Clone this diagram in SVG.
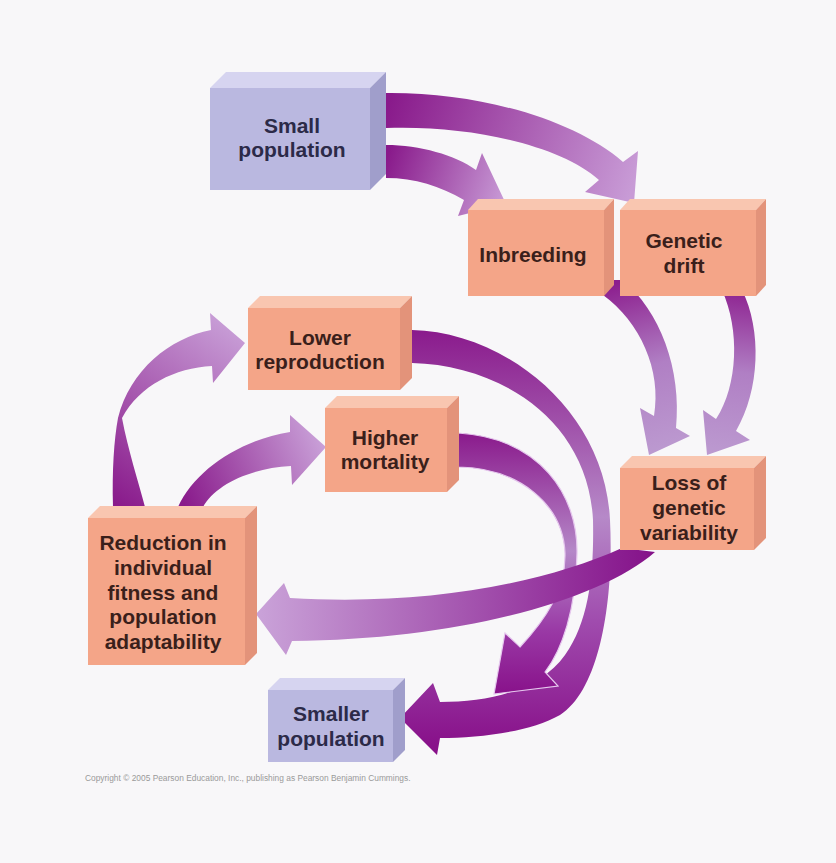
<svg xmlns="http://www.w3.org/2000/svg" width="836" height="863" viewBox="0 0 836 863">
<defs>
<style>
.t{font-family:"Liberation Sans",Arial,sans-serif;font-weight:bold;font-size:21px;text-anchor:middle}
.ts{fill:#3a1f1b}
.tl{fill:#2c2a48}
.sf{fill:#f4a588}.st{fill:#f9c6b0}.ss{fill:#e3937a}
.lf{fill:#bab8e0}.lt{fill:#d6d4f0}.ls{fill:#a09ecb}
</style>
<linearGradient id="gA" gradientUnits="userSpaceOnUse" x1="386" y1="110" x2="630" y2="195"><stop offset="0" stop-color="#891a8b"/><stop offset="1" stop-color="#c89bd6"/></linearGradient>
<linearGradient id="gB" gradientUnits="userSpaceOnUse" x1="386" y1="160" x2="505" y2="200"><stop offset="0" stop-color="#891a8b"/><stop offset="1" stop-color="#c89bd6"/></linearGradient>
<linearGradient id="gC" gradientUnits="userSpaceOnUse" x1="610" y1="285" x2="655" y2="455"><stop offset="0" stop-color="#8c1e8e"/><stop offset="0.5" stop-color="#b07fc4"/><stop offset="1" stop-color="#bc9ad0"/></linearGradient>
<linearGradient id="gI" gradientUnits="userSpaceOnUse" x1="730" y1="285" x2="710" y2="455"><stop offset="0" stop-color="#8c1e8e"/><stop offset="0.5" stop-color="#b07fc4"/><stop offset="1" stop-color="#bc9ad0"/></linearGradient>
<linearGradient id="gD" gradientUnits="userSpaceOnUse" x1="0" y1="330" x2="0" y2="745"><stop offset="0" stop-color="#8a1a8c"/><stop offset="0.45" stop-color="#b689c8"/><stop offset="0.7" stop-color="#a04cae"/><stop offset="1" stop-color="#88118a"/></linearGradient>
<linearGradient id="gE" gradientUnits="userSpaceOnUse" x1="0" y1="433" x2="0" y2="695"><stop offset="0" stop-color="#8a1a8c"/><stop offset="0.45" stop-color="#b588c8"/><stop offset="0.75" stop-color="#9a3aa6"/><stop offset="1" stop-color="#88118a"/></linearGradient>
<linearGradient id="gF" gradientUnits="userSpaceOnUse" x1="650" y1="0" x2="256" y2="0"><stop offset="0" stop-color="#85138a"/><stop offset="0.35" stop-color="#9c44a6"/><stop offset="1" stop-color="#caa3d9"/></linearGradient>
<linearGradient id="gG" gradientUnits="userSpaceOnUse" x1="120" y1="507" x2="245" y2="330"><stop offset="0" stop-color="#891a8b"/><stop offset="1" stop-color="#c9a0d8"/></linearGradient>
<linearGradient id="gH" gradientUnits="userSpaceOnUse" x1="185" y1="507" x2="325" y2="447"><stop offset="0" stop-color="#891a8b"/><stop offset="1" stop-color="#c9a0d8"/></linearGradient>
</defs>
<rect width="836" height="863" fill="#f8f7f9"/>

<g id="connectors">
<path fill="url(#gA)" d="M386,93 C480,92 575,120 623,162 L638,151 L634,203 L585,192 L599,180 C560,145 470,125 386,128 Z"/>
<path fill="url(#gB)" d="M386,145 C420,145 455,155 476,170 L482,153 L506,204 L458,216 L464,200 C440,186 415,178 386,178 Z"/>
<path fill="url(#gC)" d="M603,280 L622,280 C660,310 682,370 676,428 L690,436 L649,455 L640,408 L654,416 C662,370 640,322 603,295 Z"/>
<path fill="url(#gI)" d="M722,290 L742,290 C762,330 760,390 736,431 L750,440 L707,455 L703,410 L716,419 C738,385 740,330 722,290 Z"/>
<path fill="url(#gD)" d="M412,330 C505,332 605,410 610,520 C614,600 600,690 560,715 C530,732 480,738 440,738 L437,755 L400,718 L433,683 L440,702 C490,702 540,690 565,655 C590,620 594,570 593,520 C588,420 500,365 412,363 Z"/>
<path fill="url(#gE)" stroke="#e6c8ee" stroke-width="1.2" d="M458,433 C540,438 578,495 577,553 C576,610 562,650 545,672 L558,686 L494,694 L505,633 L520,647 C545,620 566,590 565,553 C563,505 520,468 458,467 Z"/>
<path fill="url(#gF)" d="M622,548 L655,552 C600,600 460,640 292,641 L286,655 L256,614 L284,583 L290,598 C420,606 540,585 622,548 Z"/>
<path fill="url(#gG)" d="M113,507 C112,470 114,440 118,418 C130,370 170,338 211,330 L210,313 L245,343 L213,383 L212,366 C175,368 140,385 122,418 C128,450 138,480 145,507 Z"/>
<path fill="url(#gH)" d="M178,507 C195,470 240,440 290,432 L290,415 L326,447 L292,485 L291,466 C250,468 215,485 203,507 Z"/>
</g>

<g id="small-population">
<polygon class="lt" points="210,88 226,72 386,72 370,88"/>
<polygon class="ls" points="370,88 386,72 386,174 370,190"/>
<rect class="lf" x="210" y="88" width="160" height="102"/>
<text class="t tl" x="292" y="133">Small</text>
<text class="t tl" x="292" y="157">population</text>
</g>

<g id="inbreeding">
<polygon class="st" points="468,210 478,199 614,199 604,210"/>
<polygon class="ss" points="604,210 614,199 614,285 604,296"/>
<rect class="sf" x="468" y="210" width="136" height="86"/>
<text class="t ts" x="533" y="262">Inbreeding</text>
</g>

<g id="genetic-drift">
<polygon class="st" points="620,210 630,199 766,199 756,210"/>
<polygon class="ss" points="756,210 766,199 766,285 756,296"/>
<rect class="sf" x="620" y="210" width="136" height="86"/>
<text class="t ts" x="684" y="248">Genetic</text>
<text class="t ts" x="684" y="273">drift</text>
</g>

<g id="lower-reproduction">
<polygon class="st" points="248,308 260,296 412,296 400,308"/>
<polygon class="ss" points="400,308 412,296 412,378 400,390"/>
<rect class="sf" x="248" y="308" width="152" height="82"/>
<text class="t ts" x="320" y="345">Lower</text>
<text class="t ts" x="320" y="369">reproduction</text>
</g>

<g id="higher-mortality">
<polygon class="st" points="325,408 337,396 459,396 447,408"/>
<polygon class="ss" points="447,408 459,396 459,480 447,492"/>
<rect class="sf" x="325" y="408" width="122" height="84"/>
<text class="t ts" x="385" y="445">Higher</text>
<text class="t ts" x="385" y="469">mortality</text>
</g>

<g id="loss-of-genetic-variability">
<polygon class="st" points="620,468 632,456 766,456 754,468"/>
<polygon class="ss" points="754,468 766,456 766,538 754,550"/>
<rect class="sf" x="620" y="468" width="134" height="82"/>
<text class="t ts" x="689" y="490">Loss of</text>
<text class="t ts" x="689" y="515">genetic</text>
<text class="t ts" x="689" y="540">variability</text>
</g>

<g id="reduction-in-fitness">
<polygon class="st" points="88,518 100,506 257,506 245,518"/>
<polygon class="ss" points="245,518 257,506 257,653 245,665"/>
<rect class="sf" x="88" y="518" width="157" height="147"/>
<text class="t ts" x="163" y="550">Reduction in</text>
<text class="t ts" x="163" y="575">individual</text>
<text class="t ts" x="163" y="600">fitness and</text>
<text class="t ts" x="163" y="624">population</text>
<text class="t ts" x="163" y="649">adaptability</text>
</g>

<g id="smaller-population">
<polygon class="lt" points="268,690 280,678 405,678 393,690"/>
<polygon class="ls" points="393,690 405,678 405,750 393,762"/>
<rect class="lf" x="268" y="690" width="125" height="72"/>
<text class="t tl" x="331" y="721">Smaller</text>
<text class="t tl" x="331" y="746">population</text>
</g>

<text x="85" y="781" font-family="Liberation Sans, Arial, sans-serif" font-size="8.4" fill="#9a9a9a">Copyright © 2005 Pearson Education, Inc., publishing as Pearson Benjamin Cummings.</text>
</svg>
